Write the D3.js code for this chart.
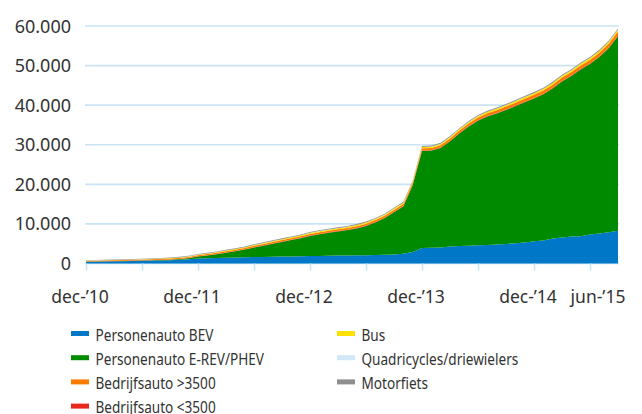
<!DOCTYPE html>
<html>
<head>
<meta charset="utf-8">
<script src="https://cdn.jsdelivr.net/npm/d3@7"></script>
<style>
  body { margin: 0; background: #fff; }
  svg { display: block; }
  text { font-family: "Noto Sans", sans-serif; fill: #333; }
</style>
</head>
<body>
<svg id="chart" width="642" height="414"></svg>
<script>
// months, dec 2010 .. sep 2015
var months = [
  "dec-’10", "jan-’11", "feb-’11", "mrt-’11", "apr-’11", "mei-’11", "jun-’11", "jul-’11", "aug-’11", "sep-’11", "okt-’11", "nov-’11",
  "dec-’11", "jan-’12", "feb-’12", "mrt-’12", "apr-’12", "mei-’12", "jun-’12", "jul-’12", "aug-’12", "sep-’12", "okt-’12", "nov-’12",
  "dec-’12", "jan-’13", "feb-’13", "mrt-’13", "apr-’13", "mei-’13", "jun-’13", "jul-’13", "aug-’13", "sep-’13", "okt-’13", "nov-’13",
  "dec-’13", "jan-’14", "feb-’14", "mrt-’14", "apr-’14", "mei-’14", "jun-’14", "jul-’14", "aug-’14", "sep-’14", "okt-’14", "nov-’14",
  "dec-’14", "jan-’15", "feb-’15", "mrt-’15", "apr-’15", "mei-’15", "jun-’15", "jul-’15", "aug-’15", "sep-’15"
];

var bev = [
  430, 470, 510, 550, 590, 630, 680, 730, 780, 850, 950, 1100,
  1280, 1350, 1400, 1450, 1500, 1560, 1620, 1660, 1700, 1740, 1780, 1820,
  1870, 1910, 1950, 1990, 2030, 2070, 2110, 2160, 2220, 2300, 2450, 2900,
  3900, 3950, 4050, 4300, 4400, 4500, 4600, 4700, 4800, 4950, 5100, 5300,
  5600, 5800, 6300, 6600, 6800, 6900, 7300, 7600, 7900, 8300
];

var phev = [
  70, 60, 50, 45, 55, 65, 70, 80, 100, 125, 165, 245,
  475, 675, 950, 1270, 1595, 1955, 2420, 2850, 3285, 3715, 4150, 4580,
  5100, 5488, 5831, 6119, 6412, 6800, 7393, 8221, 9244, 10642, 11975, 16895,
  24550, 24568, 25141, 26559, 28432, 30100, 31473, 32441, 33114, 33832, 34655, 35423,
  36085, 36957, 37924, 39391, 40558, 42120, 43086, 44542, 46498, 49140
];

var bedrijfZwaar = [
  150, 160, 170, 180, 190, 200, 210, 220, 230, 240, 250, 270,
  290, 300, 310, 320, 330, 340, 350, 360, 370, 380, 390, 400,
  410, 420, 430, 440, 450, 460, 470, 480, 490, 500, 510, 520,
  540, 560, 580, 600, 620, 640, 660, 680, 700, 720, 740, 760,
  780, 800, 820, 840, 860, 880, 900, 930, 960, 1000
];

var bedrijfLicht = [
  30, 30, 30, 35, 35, 35, 40, 40, 40, 45, 45, 50,
  50, 55, 55, 60, 60, 65, 65, 70, 70, 75, 75, 80,
  80, 85, 85, 90, 90, 95, 95, 100, 100, 105, 105, 110,
  110, 115, 115, 120, 120, 125, 125, 130, 130, 135, 135, 140,
  140, 140, 145, 145, 145, 150, 150, 150, 150, 150
];

var bus = [
  60, 65, 70, 75, 80, 85, 90, 95, 100, 105, 110, 120,
  130, 140, 150, 160, 170, 180, 190, 200, 210, 220, 230, 240,
  250, 255, 260, 265, 270, 275, 280, 285, 290, 295, 300, 310,
  320, 325, 330, 335, 340, 345, 350, 355, 360, 365, 370, 375,
  380, 385, 390, 400, 410, 420, 430, 440, 450, 460
];

var quadricycles = [
  20, 20, 20, 20, 20, 20, 20, 20, 20, 20, 20, 20,
  25, 25, 25, 25, 25, 25, 25, 25, 25, 25, 25, 25,
  30, 30, 30, 30, 30, 30, 30, 30, 30, 30, 30, 30,
  40, 40, 40, 40, 40, 40, 40, 40, 40, 40, 40, 40,
  50, 50, 50, 50, 50, 50, 50, 50, 50, 50
];

var motorfiets = [
  90, 95, 100, 105, 110, 115, 120, 125, 130, 135, 140, 145,
  150, 155, 160, 165, 170, 175, 180, 185, 190, 195, 200, 205,
  210, 212, 214, 216, 218, 220, 222, 224, 226, 228, 230, 235,
  240, 242, 244, 246, 248, 250, 252, 254, 256, 258, 260, 262,
  265, 268, 271, 274, 277, 280, 284, 288, 292, 300
];

var seriesNames = [
  "Personenauto BEV", "Personenauto E-REV/PHEV", "Bedrijfsauto >3500", "Bedrijfsauto <3500",
  "Bus", "Quadricycles/driewielers", "Motorfiets"
];
var seriesValues = [bev, phev, bedrijfZwaar, bedrijfLicht, bus, quadricycles, motorfiets];
var seriesColors = ["#0078c8", "#008a00", "#ff7a00", "#e8281e", "#ffe100", "#d2e8f8", "#8f8f8f"];

// order the bands are stacked in (bottom -> top), index into seriesNames
var stackOrder = [0, 1, 3, 2, 4, 5, 6];

var yTicks = [0, 10000, 20000, 30000, 40000, 50000, 60000];
var tickMonths = ["dec-’10", "jun-’11", "dec-’11", "jun-’12", "dec-’12", "jun-’13", "dec-’13", "jun-’14", "dec-’14", "jun-’15"];
var tickLabels = ["dec-’10", "dec-’11", "dec-’12", "dec-’13", "dec-’14", "jun-’15"];


var svg = d3.select("#chart");

var nl = d3.formatLocale({ decimal: ",", thousands: ".", grouping: [3], currency: ["€", ""] });
var fmt = nl.format(",");

var x = d3.scaleLinear()
  .domain([0, months.length - 1])
  .range([86, 618]);

var y = d3.scaleLinear()
  .domain([0, 60000])
  .range([263.5, 26]);

var table = months.map(function(m, i) {
  var row = { month: m, i: i };
  seriesNames.forEach(function(name, s) { row[name] = seriesValues[s][i]; });
  return row;
});

// gridlines
svg.append("g")
  .selectAll("line")
  .data(yTicks)
  .enter()
  .append("line")
    .attr("x1", 85)
    .attr("x2", 619)
    .attr("y1", function(d) { return y(d); })
    .attr("y2", function(d) { return y(d); })
    .attr("stroke", "#c9e4f4")
    .attr("stroke-width", 1.6);

// areas
var stack = d3.stack()
  .keys(stackOrder.map(function(s) { return seriesNames[s]; }));

var area = d3.area()
  .x(function(d) { return x(d.data.i); })
  .y0(function(d) { return y(d[0]); })
  .y1(function(d) { return y(d[1]); });

svg.append("g")
  .selectAll("path")
  .data(stack(table))
  .enter()
  .append("path")
    .attr("d", area)
    .attr("fill", function(d) { return seriesColors[seriesNames.indexOf(d.key)]; });

// x axis: small ticks every six months
var xAxis = d3.axisBottom(x)
  .tickValues(tickMonths.map(function(m) { return months.indexOf(m); }))
  .tickSize(7)
  .tickFormat("");

var gx = svg.append("g")
  .attr("transform", "translate(0," + y(0) + ")")
  .call(xAxis);
gx.select(".domain").remove();
gx.selectAll(".tick line")
  .attr("stroke", "#c9e4f4")
  .attr("stroke-width", 1.6);

svg.append("g")
  .selectAll("text")
  .data(tickLabels)
  .enter()
  .append("text")
    .attr("x", function(d) {
      var px = x(months.indexOf(d));
      return d.indexOf("jun") === 0 ? px + 8 : px - 6;
    })
    .attr("y", 303)
    .attr("text-anchor", "middle")
    .attr("font-size", 17.5)
    .text(function(d) { return d; });

// y labels
svg.append("g")
  .selectAll("text")
  .data(yTicks)
  .enter()
  .append("text")
    .attr("x", 71)
    .attr("y", function(d) { return y(d) + 6.5; })
    .attr("text-anchor", "end")
    .attr("font-size", 18)
    .text(function(d) { return fmt(d); });

// legend, two columns
var legend = svg.append("g")
  .selectAll("g")
  .data(seriesNames)
  .enter()
  .append("g")
    .attr("transform", function(d, i) {
      var col = i < 4 ? 0 : 1;
      var row = i < 4 ? i : i - 4;
      return "translate(" + (col ? 337 : 71) + "," + (333.5 + row * 24.2) + ")";
    });

legend.append("rect")
  .attr("x", 0)
  .attr("y", -2.5)
  .attr("width", 18)
  .attr("height", 5)
  .attr("fill", function(d, i) { return seriesColors[i]; });

// the original face is narrower than Noto Sans, so squeeze horizontally
legend.append("text")
  .attr("transform", "translate(24.5,7) scale(0.8,1)")
  .attr("font-size", 17)
  .text(function(d) { return d; });
</script>
</body>
</html>
